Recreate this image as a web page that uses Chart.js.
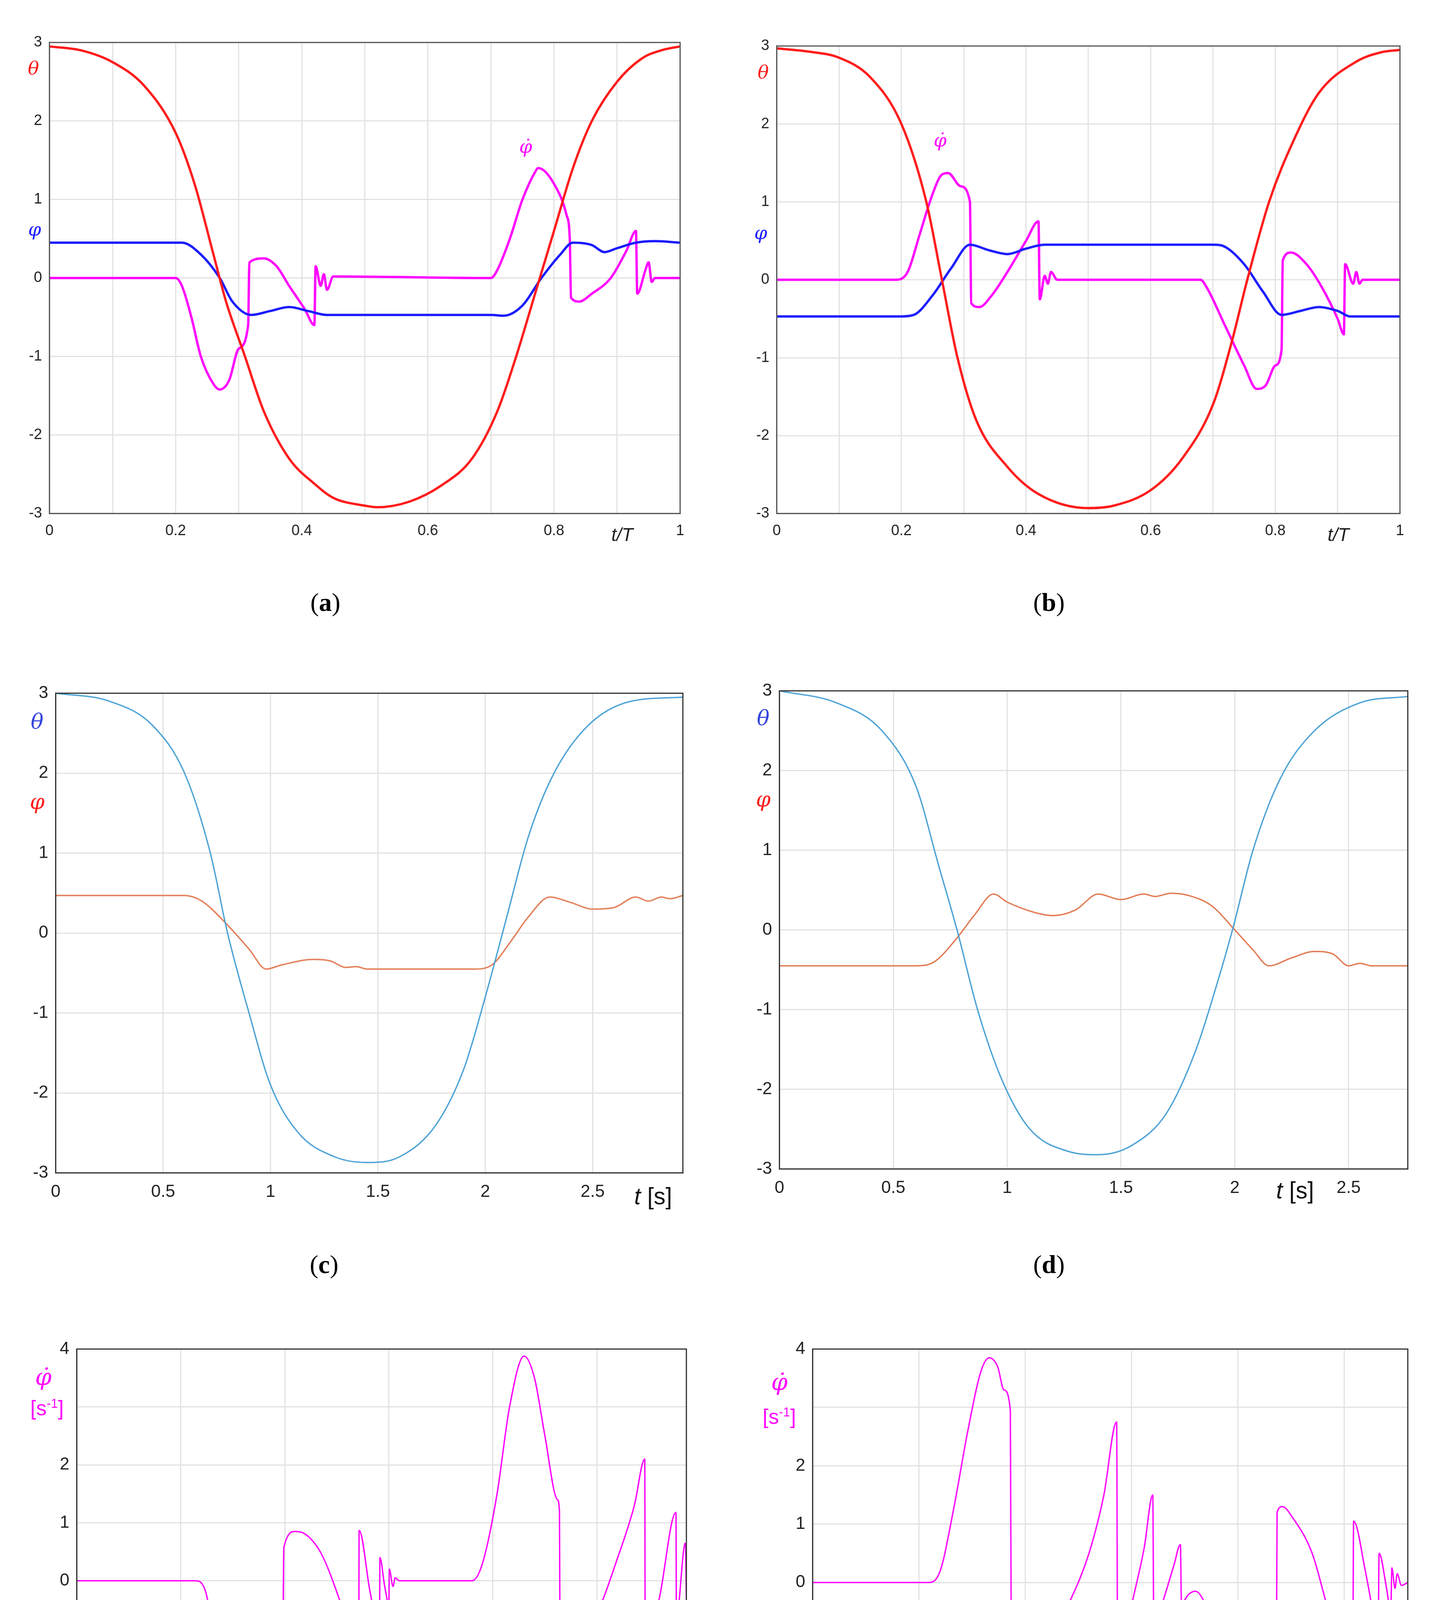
<!DOCTYPE html>
<html>
<head>
<meta charset="utf-8">
<script src="https://cdn.jsdelivr.net/npm/chart.js@4/dist/chart.umd.min.js"></script>
<style>
  body { margin: 0; background: #fff; width: 3674px; height: 4941px; position: relative; overflow: hidden; }
  canvas { position: absolute; }
  .lbl { position: absolute; font-family: "DejaVu Serif", serif; font-style: italic; white-space: nowrap; transform: translate(-50%, -50%); }
  .cap { position: absolute; font-family: "Liberation Serif", serif; font-size: 66px; transform: translate(-50%, -50%); }
</style>
</head>
<body>
<script>
// ── Data ───────────────────────────────────────────────────────────────────
// (a)
const aThetaX = [0, 0.05, 0.1, 0.15, 0.2, 0.23, 0.26, 0.28, 0.31, 0.34, 0.38, 0.42, 0.45, 0.5, 0.52, 0.57, 0.62, 0.67, 0.71, 0.74, 0.77, 0.8, 0.83, 0.86, 0.9, 0.94, 0.97, 1];
const aThetaY = [2.95, 2.9, 2.75, 2.45, 1.85, 1.2, 0.3, -0.3, -1.0, -1.7, -2.3, -2.62, -2.8, -2.9, -2.92, -2.85, -2.65, -2.3, -1.7, -1.0, -0.2, 0.6, 1.4, 2.0, 2.5, 2.8, 2.9, 2.95];
const aPhiX = [0, 0.21, 0.24, 0.27, 0.29, 0.32, 0.35, 0.38, 0.41, 0.44, 0.7, 0.72, 0.75, 0.78, 0.81, 0.83, 0.86, 0.88, 0.9, 0.93, 0.96, 1];
const aPhiY = [0.45, 0.45, 0.3, 0, -0.3, -0.47, -0.42, -0.37, -0.42, -0.47, -0.47, -0.48, -0.35, 0, 0.3, 0.45, 0.42, 0.33, 0.38, 0.45, 0.47, 0.45];
const aDotX = [0, 0.2, 0.21, 0.225, 0.24, 0.26, 0.27, 0.285, 0.3, 0.315, 0.317, 0.34, 0.36, 0.38, 0.405, 0.42, 0.422, 0.43, 0.435, 0.44, 0.45, 0.7, 0.71, 0.73, 0.75, 0.77, 0.775, 0.8, 0.82, 0.825, 0.827, 0.84, 0.86, 0.89, 0.915, 0.93, 0.932, 0.945, 0.95, 0.955, 0.96, 1];
const aDotY = [0, 0, -0.1, -0.5, -1.0, -1.35, -1.42, -1.3, -0.9, -0.6, 0.2, 0.25, 0.15, -0.1, -0.4, -0.6, 0.15, -0.1, 0.05, -0.15, 0.02, 0, 0.1, 0.5, 1.0, 1.35, 1.4, 1.2, 0.8, 0.5, -0.25, -0.3, -0.2, 0, 0.35, 0.6, -0.2, 0.1, 0.2, -0.05, 0, 0];
// (b)
const bThetaX = [0, 0.05, 0.1, 0.15, 0.2, 0.24, 0.265, 0.29, 0.32, 0.37, 0.42, 0.5, 0.54, 0.6, 0.65, 0.7, 0.73, 0.755, 0.79, 0.83, 0.87, 0.93, 0.97, 1];
const bThetaY = [2.97, 2.93, 2.85, 2.6, 2.0, 1.0, 0, -1.0, -1.8, -2.4, -2.75, -2.93, -2.9, -2.7, -2.3, -1.6, -0.8, 0, 1.0, 1.8, 2.4, 2.8, 2.92, 2.95];
const bPhiX = [0, 0.2, 0.22, 0.25, 0.28, 0.31, 0.34, 0.37, 0.4, 0.43, 0.7, 0.72, 0.75, 0.78, 0.81, 0.84, 0.87, 0.9, 0.92, 1];
const bPhiY = [-0.47, -0.47, -0.45, -0.2, 0.15, 0.45, 0.38, 0.33, 0.4, 0.45, 0.45, 0.42, 0.2, -0.15, -0.45, -0.4, -0.35, -0.4, -0.47, -0.47];
const bDotX = [0, 0.19, 0.21, 0.23, 0.25, 0.265, 0.275, 0.295, 0.31, 0.312, 0.325, 0.345, 0.37, 0.4, 0.42, 0.422, 0.43, 0.435, 0.44, 0.45, 0.68, 0.69, 0.72, 0.75, 0.77, 0.785, 0.8, 0.81, 0.812, 0.825, 0.85, 0.875, 0.9, 0.91, 0.912, 0.925, 0.93, 0.935, 0.94, 1];
const bDotY = [0, 0, 0.1, 0.6, 1.1, 1.35, 1.37, 1.2, 1.0, -0.3, -0.35, -0.2, 0.1, 0.5, 0.75, -0.25, 0.05, -0.05, 0.1, 0, 0, -0.1, -0.6, -1.1, -1.4, -1.35, -1.1, -0.9, 0.25, 0.35, 0.2, -0.1, -0.5, -0.7, 0.2, -0.05, 0.1, -0.05, 0, 0];
// (c)
const cThetaX = [0, 0.25, 0.45, 0.6, 0.72, 0.8, 0.9, 1.0, 1.13, 1.3, 1.45, 1.6, 1.77, 1.9, 2.0, 2.1, 2.2, 2.32, 2.48, 2.68, 2.92];
const cThetaY = [3.0, 2.9, 2.6, 2.0, 1.0, 0, -1.0, -1.9, -2.5, -2.8, -2.87, -2.8, -2.4, -1.7, -0.8, 0.2, 1.2, 2.0, 2.6, 2.9, 2.95];
const cPhiX = [0, 0.6, 0.68, 0.8, 0.9, 0.98, 1.05, 1.2, 1.28, 1.35, 1.4, 1.45, 1.95, 2.03, 2.12, 2.2, 2.3, 2.4, 2.5, 2.6, 2.7, 2.76, 2.82, 2.86, 2.92];
const cPhiY = [0.47, 0.47, 0.4, 0.1, -0.2, -0.45, -0.4, -0.33, -0.35, -0.43, -0.42, -0.45, -0.45, -0.4, -0.1, 0.2, 0.45, 0.38, 0.3, 0.32, 0.45, 0.4, 0.45, 0.43, 0.47];
// (d)
const dThetaX = [0, 0.25, 0.45, 0.6, 0.7, 0.78, 0.87, 0.98, 1.1, 1.27, 1.4, 1.55, 1.7, 1.83, 1.93, 1.99, 2.08, 2.2, 2.35, 2.55, 2.76];
const dThetaY = [3.0, 2.85, 2.5, 1.8, 0.8, 0, -1.0, -1.9, -2.5, -2.78, -2.82, -2.7, -2.3, -1.5, -0.6, 0, 1.0, 1.9, 2.5, 2.85, 2.93];
const dPhiX = [0, 0.6, 0.68, 0.78, 0.86, 0.94, 1.0, 1.12, 1.2, 1.3, 1.4, 1.5, 1.6, 1.65, 1.72, 1.8, 1.9, 2.0, 2.08, 2.15, 2.25, 2.35, 2.43, 2.5, 2.55, 2.6, 2.76];
const dPhiY = [-0.45, -0.45, -0.4, -0.1, 0.2, 0.45, 0.35, 0.22, 0.18, 0.25, 0.45, 0.38, 0.45, 0.42, 0.46, 0.43, 0.3, 0, -0.25, -0.45, -0.35, -0.27, -0.3, -0.45, -0.42, -0.45, -0.45];
// (e)
const eDotX = [0, 0.57, 0.62, 0.66, 0.7, 0.76, 0.82, 0.88, 0.93, 0.99, 0.995, 1.05, 1.1, 1.17, 1.23, 1.3, 1.355, 1.357, 1.41, 1.455, 1.457, 1.48, 1.5, 1.502, 1.52, 1.53, 1.55, 1.9, 1.95, 2.02, 2.08, 2.15, 2.2, 2.25, 2.31, 2.32, 2.322, 2.35, 2.39, 2.5, 2.6, 2.68, 2.73, 2.732, 2.8, 2.88, 2.882, 2.925, 2.93];
const eDotY = [0, 0, -0.2, -1.0, -1.8, -3.0, -3.85, -3.0, -1.9, -1.2, 0.57, 0.85, 0.8, 0.5, 0, -0.8, -1.85, 0.87, -0.2, -0.88, 0.4, -0.1, -0.4, 0.2, -0.1, 0.05, 0, 0, 0.3, 1.5, 3.0, 3.88, 3.5, 2.5, 1.4, 1.2, -0.65, -0.88, -0.97, -0.55, 0.4, 1.3, 2.1, -1.15, -0.3, 1.18, -0.65, 0.65, -0.35];
// (f)
const fDotX = [0, 0.55, 0.6, 0.66, 0.73, 0.79, 0.83, 0.87, 0.9, 0.93, 0.935, 0.97, 1.0, 1.1, 1.2, 1.3, 1.37, 1.43, 1.435, 1.5, 1.56, 1.6, 1.605, 1.65, 1.7, 1.73, 1.735, 1.77, 1.8, 1.85, 1.92, 1.98, 2.03, 2.06, 2.1, 2.15, 2.18, 2.185, 2.21, 2.26, 2.35, 2.42, 2.5, 2.54, 2.545, 2.6, 2.64, 2.66, 2.665, 2.7, 2.72, 2.725, 2.74, 2.75, 2.77, 2.8];
const fDotY = [0, 0, 0.2, 1.2, 2.6, 3.6, 3.85, 3.7, 3.3, 2.95, -1.6, -1.72, -1.6, -1.1, -0.4, 0.5, 1.5, 2.75, -1.55, -0.4, 0.6, 1.5, -0.8, -0.3, 0.3, 0.65, -0.35, -0.2, -0.15, -0.4, -1.3, -2.4, -3.4, -3.6, -3.4, -2.9, -2.6, 1.2, 1.3, 1.1, 0.5, -0.4, -1.4, -2.3, 1.05, 0.2, -0.6, -1.05, 0.5, -0.1, -0.5, 0.25, -0.1, 0.15, -0.05, 0];

// ── Helpers ────────────────────────────────────────────────────────────────
const S = 3.167;
const RED = '#ff1a1a', BLUE = '#1a1aff', MAG = '#ff00ff';
const MBLUE = '#4da3d6', MORANGE = '#e27a52';

function pts(xs, ys) { return xs.map((x, i) => ({ x, y: ys[i] })); }

function fmt(v) { return String(Math.round(v * 100) / 100); }

function panel(box, cfg) {
  const yW = 22 * S, xH = 20 * S, pad = 4 * S;
  const l = box.l * S, t = box.t * S, r = box.r * S, b = box.b * S;
  const c = document.createElement('canvas');
  c.style.left = (l - yW) + 'px';
  c.style.top = (t - pad) + 'px';
  const w = r - l + yW + pad, h = b - t + pad + xH;
  c.width = w; c.height = h;
  c.style.width = w + 'px'; c.style.height = h + 'px';
  document.body.appendChild(c);
  const font = { family: 'Liberation Sans', size: cfg.fs * S };
  new Chart(c.getContext('2d'), {
    type: 'line',
    data: {
      datasets: cfg.series.map(s => ({
        data: pts(s.x, s.y), borderColor: s.color, borderWidth: cfg.lw,
        pointRadius: 0, cubicInterpolationMode: 'monotone', fill: false,
      })),
    },
    options: {
      responsive: false, animation: false,
      layout: { padding: { top: pad, right: pad, left: 0, bottom: 0 } },
      plugins: { legend: { display: false }, tooltip: { enabled: false } },
      scales: {
        x: {
          type: 'linear', min: 0, max: cfg.xMax,
          afterFit: s => { s.height = xH; },
          afterBuildTicks: s => {
            const n = Math.floor(cfg.xMax / cfg.xStep + 1e-6);
            s.ticks = Array.from({ length: n + 1 }, (_, i) => ({ value: Math.round(i * cfg.xStep * 100) / 100 }));
          },
          grid: { color: '#e2e2e2', lineWidth: 3, drawTicks: false },
          border: { color: cfg.border, width: 3 },
          ticks: {
            padding: 7 * S, autoSkip: false, maxRotation: 0,
            color: '#222', font, callback: cfg.xLabel,
          },
        },
        y: {
          min: cfg.yMin, max: cfg.yMax,
          afterFit: s => { s.width = yW; },
          grid: { color: '#e2e2e2', lineWidth: 3, drawTicks: false },
          border: { color: cfg.border, width: 3 },
          ticks: {
            stepSize: 1, padding: 6 * S, color: '#222', font,
            callback: v => (cfg.hideY === v ? '' : String(v)),
          },
        },
      },
    },
    plugins: [{
      id: 'frame',
      afterDraw(ch) {
        const a = ch.chartArea, g = ch.ctx;
        g.save(); g.strokeStyle = cfg.border; g.lineWidth = 3;
        g.strokeRect(a.left, a.top, a.right - a.left, a.bottom - a.top);
        g.restore();
      },
    }],
  });
}

function label(text, x, y, color, size, extra) {
  const d = document.createElement('div');
  d.className = 'lbl';
  d.innerHTML = text;
  d.style.left = x * S + 'px'; d.style.top = y * S + 'px';
  d.style.color = color; d.style.fontSize = size * S + 'px';
  if (extra) Object.assign(d.style, extra);
  document.body.appendChild(d);
}

function caption(ch, x, y) {
  const d = document.createElement('div');
  d.className = 'cap';
  d.innerHTML = '(<b>' + ch + '</b>)';
  d.style.left = x * S + 'px'; d.style.top = y * S + 'px';
  document.body.appendChild(d);
}

const tLabelA = v => (Math.round(v * 10) % 2 === 0 && Math.round(v * 10) !== 10 || Math.abs(v - 1) < 1e-6) ? fmt(v) : '';
const halfLabel = lim => v => (v <= lim + 1e-6 && Math.abs(v * 2 - Math.round(v * 2)) < 1e-6) ? fmt(v) : '';

// ── Panels ─────────────────────────────────────────────────────────────────
panel({ l: 40, t: 25, r: 556, b: 415 }, {
  xMax: 1, xStep: 0.1, yMin: -3, yMax: 3, lw: 6, fs: 12, border: '#555', xLabel: tLabelA,
  series: [{ x: aThetaX, y: aThetaY, color: RED }, { x: aPhiX, y: aPhiY, color: BLUE }, { x: aDotX, y: aDotY, color: MAG }],
});
panel({ l: 628, t: 28, r: 1138, b: 415 }, {
  xMax: 1, xStep: 0.1, yMin: -3, yMax: 3, lw: 6, fs: 12, border: '#555', xLabel: tLabelA,
  series: [{ x: bThetaX, y: bThetaY, color: RED }, { x: bPhiX, y: bPhiY, color: BLUE }, { x: bDotX, y: bDotY, color: MAG }],
});
panel({ l: 45, t: 550, r: 552, b: 948 }, {
  xMax: 2.92, xStep: 0.5, yMin: -3, yMax: 3, lw: 3.5, fs: 14, border: '#333', xLabel: halfLabel(2.5),
  series: [{ x: cThetaX, y: cThetaY, color: MBLUE }, { x: cPhiX, y: cPhiY, color: MORANGE }],
});
panel({ l: 630, t: 548, r: 1138, b: 945 }, {
  xMax: 2.76, xStep: 0.5, yMin: -3, yMax: 3, lw: 3.5, fs: 14, border: '#333', xLabel: halfLabel(2.5),
  series: [{ x: dThetaX, y: dThetaY, color: MBLUE }, { x: dPhiX, y: dPhiY, color: MORANGE }],
});
panel({ l: 62, t: 1080, r: 555, b: 1465 }, {
  xMax: 2.93, xStep: 0.5, yMin: -4, yMax: 4, lw: 3.5, fs: 14, border: '#333', xLabel: halfLabel(2.5), hideY: 3,
  series: [{ x: eDotX, y: eDotY, color: MAG }],
});
panel({ l: 657, t: 1080, r: 1138, b: 1468 }, {
  xMax: 2.8, xStep: 0.5, yMin: -4, yMax: 4, lw: 3.5, fs: 14, border: '#333', xLabel: halfLabel(2.5), hideY: 3,
  series: [{ x: fDotX, y: fDotY, color: MAG }],
});

// ── Annotations ────────────────────────────────────────────────────────────
const PHIDOT = 'φ&#775;';
label('θ', 27, 55, RED, 15); label('φ', 28, 185, BLUE, 15); label(PHIDOT, 425, 118, MAG, 15);
label('t/T', 503, 432, '#222', 15, { fontFamily: 'Liberation Sans' });
label('θ', 617, 58, RED, 15); label('φ', 615, 188, BLUE, 15); label(PHIDOT, 760, 113, MAG, 15);
label('t/T', 1082, 432, '#222', 15, { fontFamily: 'Liberation Sans' });
label('θ', 30, 583, '#3344dd', 17); label('φ', 30, 648, RED, 17);
label('<i>t</i> <span style="font-style:normal">[s]</span>', 528, 967, '#111', 19, { fontFamily: 'Liberation Sans' });
label('θ', 617, 580, '#3344dd', 17); label('φ', 617, 646, RED, 17);
label('<i>t</i> <span style="font-style:normal">[s]</span>', 1047, 962, '#111', 19, { fontFamily: 'Liberation Sans' });
label(PHIDOT, 35, 1113, MAG, 19);
label('[s<sup style="font-size:0.6em">-1</sup>]', 38, 1138, MAG, 17, { fontStyle: 'normal', fontFamily: 'Liberation Sans' });
label('<i>t</i> <span style="font-style:normal">[s]</span>', 532, 1487, '#111', 19, { fontFamily: 'Liberation Sans' });
label(PHIDOT, 630, 1117, MAG, 19);
label('[s<sup style="font-size:0.6em">-1</sup>]', 630, 1145, MAG, 17, { fontStyle: 'normal', fontFamily: 'Liberation Sans' });
label('<i>t</i> <span style="font-style:normal">[s]</span>', 1050, 1482, '#111', 19, { fontFamily: 'Liberation Sans' });

caption('a', 263, 487); caption('b', 848, 487);
caption('c', 262, 1022); caption('d', 848, 1022);
caption('e', 262, 1543); caption('f', 848, 1543);
</script>
</body>
</html>
